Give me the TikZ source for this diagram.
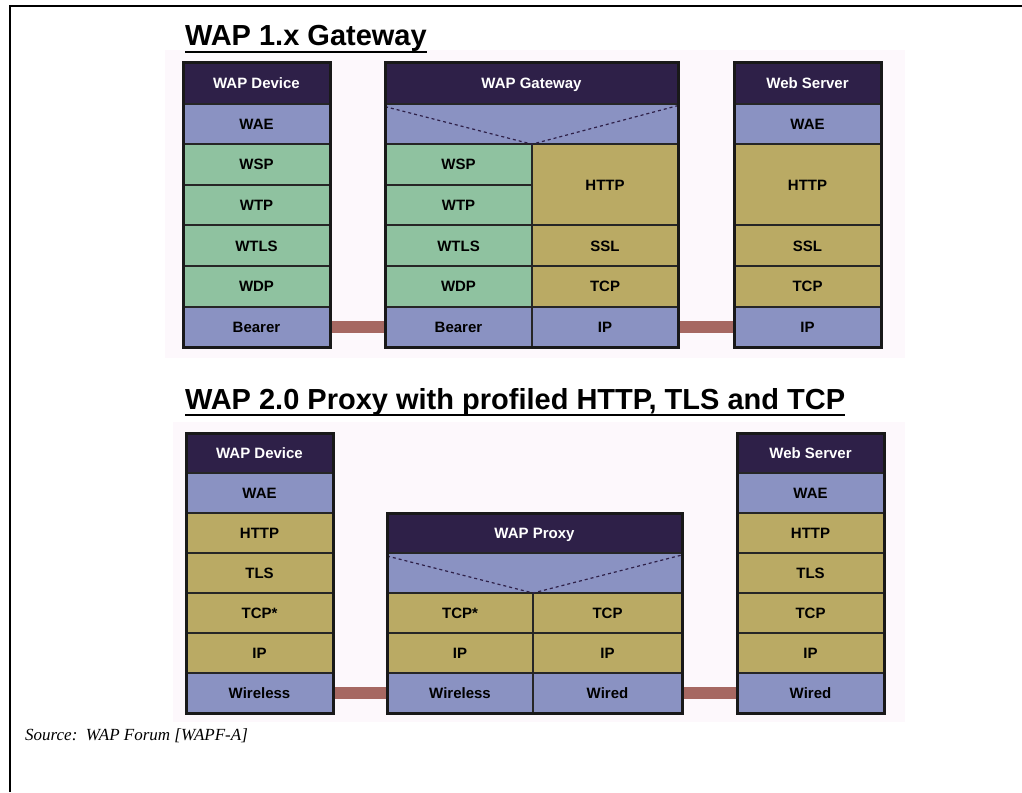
\documentclass[tikz,border=0pt]{standalone}
\usepackage{fontspec}
\setmainfont{Liberation Serif}
\setsansfont{Liberation Sans}
\usetikzlibrary{positioning, backgrounds}

\definecolor{hdpurple}{RGB}{46,32,72}
\definecolor{lavender}{RGB}{138,146,194}
\definecolor{wapgreen}{RGB}{143,194,160}
\definecolor{khaki}{RGB}{186,170,100}
\definecolor{linkbrown}{RGB}{166,104,98}
\definecolor{paper}{RGB}{253,248,252}

\newcommand{\rowh}{40.6pt}

\tikzset{
  cell/.style={draw=black!85, line width=2pt, inner sep=0pt, outer sep=0pt,
    minimum width=147pt, minimum height=\rowh, text height=10.7pt, text depth=0pt,
    font=\sffamily\bfseries\fontsize{15}{17}\selectfont},
  head/.style={cell, fill=hdpurple, text=white},
  app/.style={cell, fill=lavender},
  wsp/.style={cell, fill=wapgreen},
  inet/.style={cell, fill=khaki},
  stackframe/.style={draw=black!90, line width=3pt},
  link/.style={line width=12pt, draw=linkbrown},
  title/.style={inner sep=0pt, outer sep=0pt, font=\sffamily\bfseries\fontsize{29}{33}\selectfont},
}

\begin{document}
\begin{tikzpicture}[x=1pt, y=-1pt]
    \useasboundingbox (0,0) rectangle (1022,792);

    % page frame
    \draw[line width=2pt] (10,792) -- (10,6) -- (1022,6);

    % ---------------- WAP 1.x ----------------
    \node[title, anchor=base west] (title1) at (185,46) {WAP 1.x Gateway\ };
    \draw[line width=2.4pt] (title1.south west) -- (title1.south east);

    % device stack
    \node[head, anchor=north west] (dev1) at (183,63) {WAP Device};
    \node[app, below=0pt of dev1] (dev1wae) {WAE};
    \node[wsp, below=0pt of dev1wae] (dev1wsp) {WSP};
    \node[wsp, below=0pt of dev1wsp] (dev1wtp) {WTP};
    \node[wsp, below=0pt of dev1wtp] (dev1wtls) {WTLS};
    \node[wsp, below=0pt of dev1wtls] (dev1wdp) {WDP};
    \node[app, below=0pt of dev1wdp] (dev1bearer) {Bearer};
    \draw[stackframe] (dev1.north west) rectangle (dev1bearer.south east);

    % gateway stack
    \node[head, anchor=north west, minimum width=293pt] (gw1) at (385,63) {WAP Gateway};
    \node[app, below=0pt of gw1, minimum width=293pt] (gw1top) {};
    \node[wsp, anchor=north west] (gw1wsp) at (gw1top.south west) {WSP};
    \node[wsp, below=0pt of gw1wsp] (gw1wtp) {WTP};
    \node[wsp, below=0pt of gw1wtp] (gw1wtls) {WTLS};
    \node[wsp, below=0pt of gw1wtls] (gw1wdp) {WDP};
    \node[app, below=0pt of gw1wdp] (gw1bearer) {Bearer};
    \node[inet, anchor=north west, minimum width=146pt, minimum height=81.2pt] (gw1http) at (gw1wsp.north east) {HTTP};
    \node[inet, below=0pt of gw1http, minimum width=146pt] (gw1ssl) {SSL};
    \node[inet, below=0pt of gw1ssl, minimum width=146pt] (gw1tcp) {TCP};
    \node[app, below=0pt of gw1tcp, minimum width=146pt] (gw1ip) {IP};
    \draw[dashed, line width=1.2pt, hdpurple] ([yshift=-3pt]gw1top.north west) -- (gw1wsp.north east) -- ([yshift=-2pt]gw1top.north east);
    \draw[stackframe] (gw1.north west) rectangle (gw1ip.south east);

    % server stack
    \node[head, anchor=north west] (srv1) at (734,63) {Web Server};
    \node[app, below=0pt of srv1] (srv1wae) {WAE};
    \node[inet, below=0pt of srv1wae, minimum height=81.2pt] (srv1http) {HTTP};
    \node[inet, below=0pt of srv1http] (srv1ssl) {SSL};
    \node[inet, below=0pt of srv1ssl] (srv1tcp) {TCP};
    \node[app, below=0pt of srv1tcp] (srv1ip) {IP};
    \draw[stackframe] (srv1.north west) rectangle (srv1ip.south east);

    % ---------------- WAP 2.0 ----------------
    \node[title, anchor=base west] (title2) at (185,409) {WAP 2.0 Proxy with profiled HTTP, TLS and TCP\ };
    \draw[line width=2.4pt] (title2.south west) -- (title2.south east);

    \renewcommand{\rowh}{40pt}
    % device stack
    \node[head, anchor=north west] (dev2) at (186,433) {WAP Device};
    \node[app, below=0pt of dev2] (dev2wae) {WAE};
    \node[inet, below=0pt of dev2wae] (dev2http) {HTTP};
    \node[inet, below=0pt of dev2http] (dev2tls) {TLS};
    \node[inet, below=0pt of dev2tls] (dev2tcp) {TCP*};
    \node[inet, below=0pt of dev2tcp] (dev2ip) {IP};
    \node[app, below=0pt of dev2ip] (dev2wireless) {Wireless};
    \draw[stackframe] (dev2.north west) rectangle (dev2wireless.south east);

    % proxy stack
    \node[head, anchor=north west, minimum width=295pt] (px) at (387,513) {WAP Proxy};
    \node[app, below=0pt of px, minimum width=295pt] (pxtop) {};
    \node[inet, anchor=north west, minimum width=146pt] (pxtcpw) at (pxtop.south west) {TCP*};
    \node[inet, below=0pt of pxtcpw, minimum width=146pt] (pxipw) {IP};
    \node[app, below=0pt of pxipw, minimum width=146pt] (pxwireless) {Wireless};
    \node[inet, anchor=north west, minimum width=149pt] (pxtcp) at (pxtcpw.north east) {TCP};
    \node[inet, below=0pt of pxtcp, minimum width=149pt] (pxip) {IP};
    \node[app, below=0pt of pxip, minimum width=149pt] (pxwired) {Wired};
    \draw[dashed, line width=1.2pt, hdpurple] ([yshift=-3pt]pxtop.north west) -- (pxtcpw.north east) -- ([yshift=-2pt]pxtop.north east);
    \draw[stackframe] (px.north west) rectangle (pxwired.south east);

    % server stack
    \node[head, anchor=north west] (srv2) at (737,433) {Web Server};
    \node[app, below=0pt of srv2] (srv2wae) {WAE};
    \node[inet, below=0pt of srv2wae] (srv2http) {HTTP};
    \node[inet, below=0pt of srv2http] (srv2tls) {TLS};
    \node[inet, below=0pt of srv2tls] (srv2tcp) {TCP};
    \node[inet, below=0pt of srv2tcp] (srv2ip) {IP};
    \node[app, below=0pt of srv2ip] (srv2wired) {Wired};
    \draw[stackframe] (srv2.north west) rectangle (srv2wired.south east);

    % paper tint and links behind the stacks
    \begin{scope}[on background layer]
      \fill[paper] (165,50) rectangle (905,358);
      \fill[paper] (173,422) rectangle (905,722);
      \draw[link] (dev1bearer.east) -- (gw1bearer.west);
      \draw[link] (gw1ip.east) -- (srv1ip.west);
      \draw[link] (dev2wireless.east) -- (pxwireless.west);
      \draw[link] (pxwired.east) -- (srv2wired.west);
    \end{scope}

    % source note
    \node[anchor=base west, inner sep=0pt, font=\itshape\fontsize{17}{20}\selectfont] (source) at (25,740) {Source:\ \ WAP Forum [WAPF-A]};
\end{tikzpicture}
\end{document}
